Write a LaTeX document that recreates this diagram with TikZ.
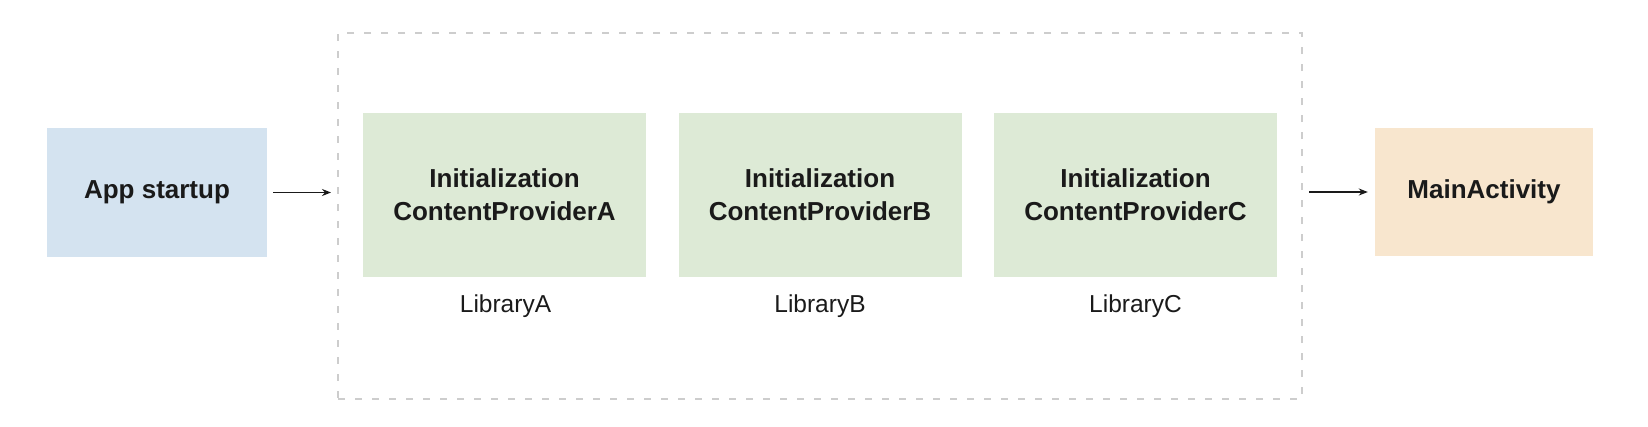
\documentclass[tikz,border=0pt]{standalone}
\usepackage{fontspec}
\setmainfont{Liberation Sans}
\usetikzlibrary{arrows.meta}
\definecolor{appblue}{RGB}{212,227,240}
\definecolor{libgreen}{RGB}{221,234,214}
\definecolor{mainorange}{RGB}{248,230,206}
\definecolor{txt}{RGB}{26,26,26}
\definecolor{dashgray}{RGB}{205,205,205}
\tikzset{
  box/.style={inner sep=0pt, align=center, text=txt,
    font=\fontsize{26}{33}\selectfont\bfseries},
  libbox/.style={box, fill=libgreen, minimum width=283pt, minimum height=164pt},
  liblabel/.style={text=txt, inner sep=0pt, font=\fontsize{24.5}{29}\selectfont},
  group/.style={draw=dashgray, line width=2pt, dash pattern=on 7pt off 10pt,
    minimum width=964pt, minimum height=366pt, inner sep=0pt},
  flow/.style={-{Stealth[length=9pt,width=7pt]}, line width=1.5pt, draw=txt},
}
\begin{document}
\begin{tikzpicture}[x=1pt,y=-1pt]
\useasboundingbox (0,0) rectangle (1648,426);
\node[group] (grp) at (820,216) {};
\node[box, fill=appblue, minimum width=220pt, minimum height=129pt] (app) at (157,192.5) {App startup};
\node[libbox] (A) at (504.5,195) {Initialization\\ContentProviderA};
\node[libbox] (B) at (820,195) {Initialization\\ContentProviderB};
\node[libbox] (C) at (1135.5,195) {Initialization\\ContentProviderC};
\node[liblabel, anchor=base] (la) at (505.5,312) {LibraryA};
\node[liblabel, anchor=base] (lb) at (820,312) {LibraryB};
\node[liblabel, anchor=base] (lc) at (1135.5,312) {LibraryC};
\node[box, fill=mainorange, minimum width=218pt, minimum height=128pt] (main) at (1484,192) {MainActivity};
\coordinate (g1) at (app.east -| grp.west);
\coordinate (g2) at (main.west -| grp.east);
\draw[flow, shorten <=6pt, shorten >=6pt] (app.east) -- (g1);
\draw[flow, shorten <=6pt, shorten >=7pt] (g2) -- (main.west);
\end{tikzpicture}
\end{document}
